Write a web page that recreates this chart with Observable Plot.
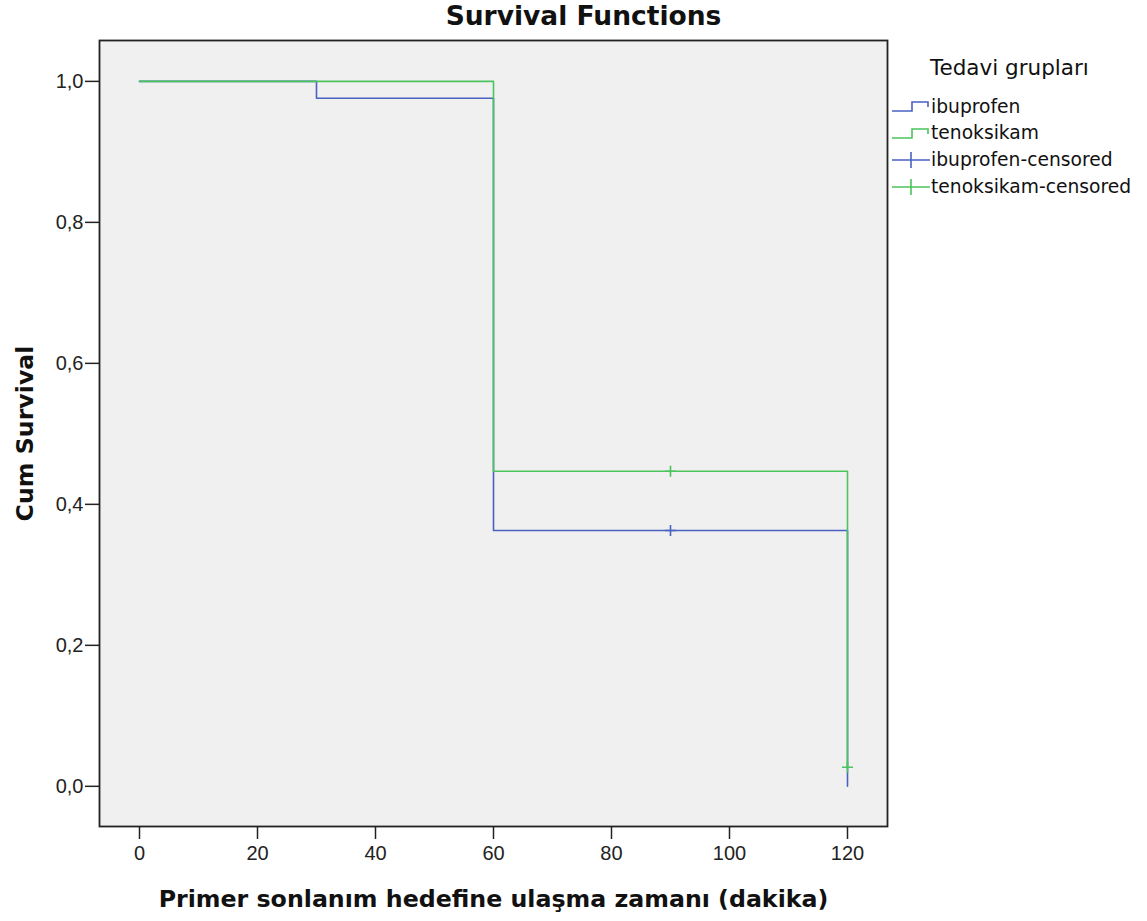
<!DOCTYPE html>
<html>
<head>
<meta charset="utf-8">
<script src="https://cdn.jsdelivr.net/npm/d3@7"></script>
<script src="https://cdn.jsdelivr.net/npm/@observablehq/plot@0.6"></script>
<style>
  html, body { margin: 0; padding: 0; background: #fff; }
  #wrap { position: relative; width: 1147px; height: 921px; font-family: "DejaVu Sans", sans-serif; }
  #title { position: absolute; left: 20px; width: 1127px; top: 0px; text-align: center; font-size: 26.5px; font-weight: bold; color: #111; }
  #legend { position: absolute; left: 890px; top: 55px; font-size: 18.7px; color: #111; }
  #legend .head { margin-left: 40px; font-size: 21.5px; margin-bottom: 13px; }
  #legend .item { display: flex; align-items: center; height: 26.6px; }
  #legend svg { display: block; margin-right: 1px; }
  #chart g[aria-label$="tick label"], #chart g[aria-label$="tick label"] text { font-size: 20px; font-family: "Liberation Sans", Arial, sans-serif; }
  #chart g[aria-label="x-axis label"], #chart g[aria-label="x-axis label"] text,
  #chart g[aria-label="y-axis label"], #chart g[aria-label="y-axis label"] text { font-size: 23.7px; font-weight: bold; font-family: "DejaVu Sans", sans-serif; }
</style>
</head>
<body>
<div id="wrap">
  <div id="chart"></div>
  <div id="title">Survival Functions</div>
  <div id="legend"></div>
</div>
<script>
// Data
const groups = ["ibuprofen", "tenoksikam"];
const colors = ["#4a62c0", "#4cc35c"];
const ibuprofenTime = [0, 30, 60, 120];
const ibuprofenSurv = [1.0, 0.976, 0.363, 0.0];
const tenoksikamTime = [0, 60, 120];
const tenoksikamSurv = [1.0, 0.447, 0.027];
const ibuprofenCensTime = [90];
const ibuprofenCensSurv = [0.363];
const tenoksikamCensTime = [90, 120];
const tenoksikamCensSurv = [0.447, 0.027];
const xTicks = [0, 20, 40, 60, 80, 100, 120];
const yTicks = [0, 0.2, 0.4, 0.6, 0.8, 1.0];
const legendLabels = ["ibuprofen", "tenoksikam", "ibuprofen-censored", "tenoksikam-censored"];
const legendTitle = "Tedavi grupları";
const xLabel = "Primer sonlanım hedefine ulaşma zamanı (dakika)";
const yLabel = "Cum Survival";

const ibu = ibuprofenTime.map((t, i) => ({t, s: ibuprofenSurv[i]}));
const ten = tenoksikamTime.map((t, i) => ({t, s: tenoksikamSurv[i]}));
const ibuC = ibuprofenCensTime.map((t, i) => ({t, s: ibuprofenCensSurv[i]}));
const tenC = tenoksikamCensTime.map((t, i) => ({t, s: tenoksikamCensSurv[i]}));

const thinPlus = {
  draw(ctx, size) {
    const r = Math.sqrt(size / Math.PI);
    ctx.moveTo(-r, 0); ctx.lineTo(r, 0);
    ctx.moveTo(0, -r); ctx.lineTo(0, r);
  }
};
const fmt = d => d.toFixed(1).replace(".", ",");

const plot = Plot.plot({
  width: 1147,
  height: 921,
  marginLeft: 99,
  marginRight: 260,
  marginTop: 40,
  marginBottom: 95,
  style: { fontFamily: "DejaVu Sans, sans-serif", fontSize: "17.5px", color: "#111", background: "transparent" },
  x: { domain: [-6.78, 126.78], ticks: xTicks, tickFormat: d => String(d), label: null },
  y: { domain: [-0.057, 1.058], ticks: yTicks, tickFormat: fmt, label: null },
  marks: [
    Plot.frame({ fill: "#f0f0f0", stroke: null }),
    Plot.line(ibu, { x: "t", y: "s", curve: "step-after", stroke: colors[0], strokeWidth: 1.6 }),
    Plot.dot(ibuC, { x: "t", y: "s", symbol: thinPlus, r: 5.5, stroke: colors[0], strokeWidth: 1.6, fill: "none" }),
    Plot.line(ten, { x: "t", y: "s", curve: "step-after", stroke: colors[1], strokeWidth: 1.6 }),
    Plot.dot(tenC, { x: "t", y: "s", symbol: thinPlus, r: 5.5, stroke: colors[1], strokeWidth: 1.6, fill: "none" }),
    Plot.axisX({ ticks: xTicks, tickSize: 13, tickPadding: 6, stroke: "#222", strokeWidth: 1.5, fill: "#222", label: null }),
    Plot.axisY({ ticks: yTicks, tickSize: 14, tickPadding: 2, stroke: "#222", strokeWidth: 1.5, fill: "#222", tickFormat: fmt, label: null }),
    Plot.axisX({ ticks: [], label: xLabel, labelAnchor: "center", labelArrow: "none", labelOffset: 80, fill: "#111", tickSize: 0 }),
    Plot.axisY({ ticks: [], label: yLabel, labelAnchor: "center", labelArrow: "none", labelOffset: 83, fill: "#111", tickSize: 0 }),
    Plot.frame({ stroke: "#222", strokeWidth: 1.8 })
  ]
});
document.getElementById("chart").appendChild(plot);

// Legend
const leg = document.getElementById("legend");
const head = document.createElement("div");
head.className = "head";
head.textContent = legendTitle;
leg.appendChild(head);
legendLabels.forEach((lab, i) => {
  const c = colors[i % 2];
  const row = document.createElement("div");
  row.className = "item";
  const isStep = i < 2;
  const sym = isStep
    ? `<svg width="40" height="20"><path d="M2,15H22V6H38V11" fill="none" stroke="${c}" stroke-width="1.6"/></svg>`
    : `<svg width="40" height="20"><path d="M2,11H40M21,3V19" fill="none" stroke="${c}" stroke-width="1.6"/></svg>`;
  row.innerHTML = sym + `<span>${lab}</span>`;
  leg.appendChild(row);
});
</script>
</body>
</html>
